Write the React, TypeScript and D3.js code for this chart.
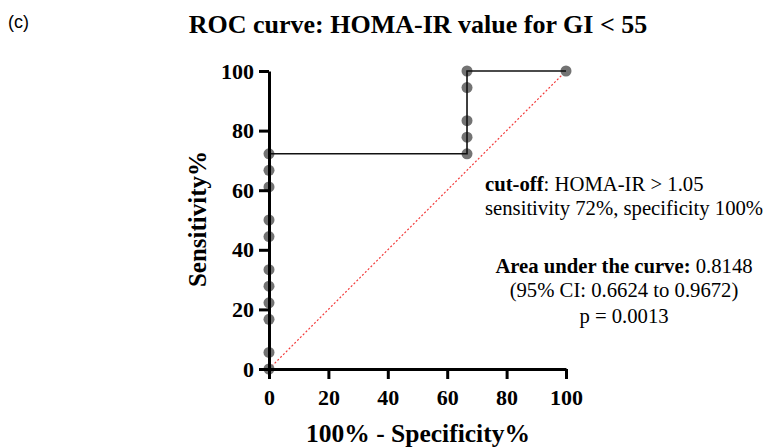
import React, { useEffect, useRef } from 'react';
import * as d3 from 'd3';

// ROC points (100% - specificity, sensitivity)
const fprValues = [0, 0, 0, 0, 0, 0, 0, 0, 0, 0, 0, 66.67, 66.67, 66.67, 66.67, 66.67, 100];
const sensValues = [0, 5.556, 16.67, 22.22, 27.78, 33.33, 44.44, 50, 61.11, 66.67, 72.22, 72.22, 77.78, 83.33, 94.44, 100, 100];
const chanceLine = [0, 100];
const tickValues = [0, 20, 40, 60, 80, 100];

const width = 766;
const height = 448;
const margin = { left: 269, right: 200, top: 71, bottom: 79 };

const serif = '"Liberation Serif", "Times New Roman", serif';

export default function App() {
  const xAxisRef = useRef<SVGGElement>(null);
  const yAxisRef = useRef<SVGGElement>(null);

  const xScale = d3.scaleLinear().domain([0, 100]).range([margin.left, width - margin.right]);
  const yScale = d3.scaleLinear().domain([0, 100]).range([height - margin.bottom, margin.top]);

  useEffect(() => {
    const xAxis = d3.axisBottom(xScale).tickValues(tickValues).tickSize(10).tickSizeOuter(0).tickPadding(10);
    const yAxis = d3.axisLeft(yScale).tickValues(tickValues).tickSize(10).tickSizeOuter(0).tickPadding(5);

    const styleAxis = (g: any) => {
      g.select('.domain').attr('stroke', '#000').attr('stroke-width', 3);
      g.selectAll('.tick line').attr('stroke', '#000').attr('stroke-width', 3);
      g.selectAll('.tick text')
        .attr('fill', '#000')
        .style('font-family', serif)
        .style('font-weight', 'bold')
        .style('font-size', '22px');
    };

    d3.select(xAxisRef.current).call(xAxis).call(styleAxis);
    d3.select(yAxisRef.current).call(yAxis).call(styleAxis);
  }, []);

  const points = fprValues.map((x, i) => ({ x, y: sensValues[i] }));
  const line = d3.line<{ x: number; y: number }>().x(d => xScale(d.x)).y(d => yScale(d.y));

  return (
    <svg width={width} height={height} style={{ position: 'absolute', left: 0, top: 0, background: '#fff' }}>
      {/* panel letter and title */}
      <text x={8} y={28} fontFamily='"Liberation Sans", Arial, sans-serif' fontSize={18}>(c)</text>
      <text x={418} y={33} textAnchor="middle" fontFamily={serif} fontWeight="bold" fontSize={26}>
        ROC curve: HOMA-IR value for GI &lt; 55
      </text>

      {/* chance line */}
      <line
        x1={xScale(chanceLine[0])} y1={yScale(chanceLine[0])}
        x2={xScale(chanceLine[1])} y2={yScale(chanceLine[1])}
        stroke="#f23a3a" strokeWidth={1.2} strokeDasharray="2,2"
      />

      {/* data points */}
      {points.map((d, i) => (
        <circle key={i} cx={xScale(d.x)} cy={yScale(d.y)} r={5.5} fill="#737373" />
      ))}

      {/* ROC curve */}
      <path d={line(points) || ''} fill="none" stroke="#111" strokeWidth={1.6} />

      {/* axes */}
      <g ref={xAxisRef} transform={`translate(0, ${height - margin.bottom})`} />
      <g ref={yAxisRef} transform={`translate(${margin.left}, 0)`} />

      {/* axis titles */}
      <text x={418} y={442} textAnchor="middle" fontFamily={serif} fontWeight="bold" fontSize={25.5}>
        100% - Specificity%
      </text>
      <text transform="translate(206, 219) rotate(-90)" textAnchor="middle" fontFamily={serif} fontWeight="bold" fontSize={25}>
        Sensitivity%
      </text>

      {/* annotations */}
      <g fontFamily={serif} fontSize={20.7} fill="#000">
        <text x={485} y={191}>
          <tspan fontWeight="bold">cut-off</tspan>: HOMA-IR &gt; 1.05
        </text>
        <text x={485} y={215}>sensitivity 72%, specificity 100%</text>
        <text x={624} y={273} textAnchor="middle">
          <tspan fontWeight="bold">Area under the curve:</tspan> 0.8148
        </text>
        <text x={624} y={297} textAnchor="middle">(95% CI: 0.6624 to 0.9672)</text>
        <text x={624} y={323} textAnchor="middle">p = 0.0013</text>
      </g>
    </svg>
  );
}
